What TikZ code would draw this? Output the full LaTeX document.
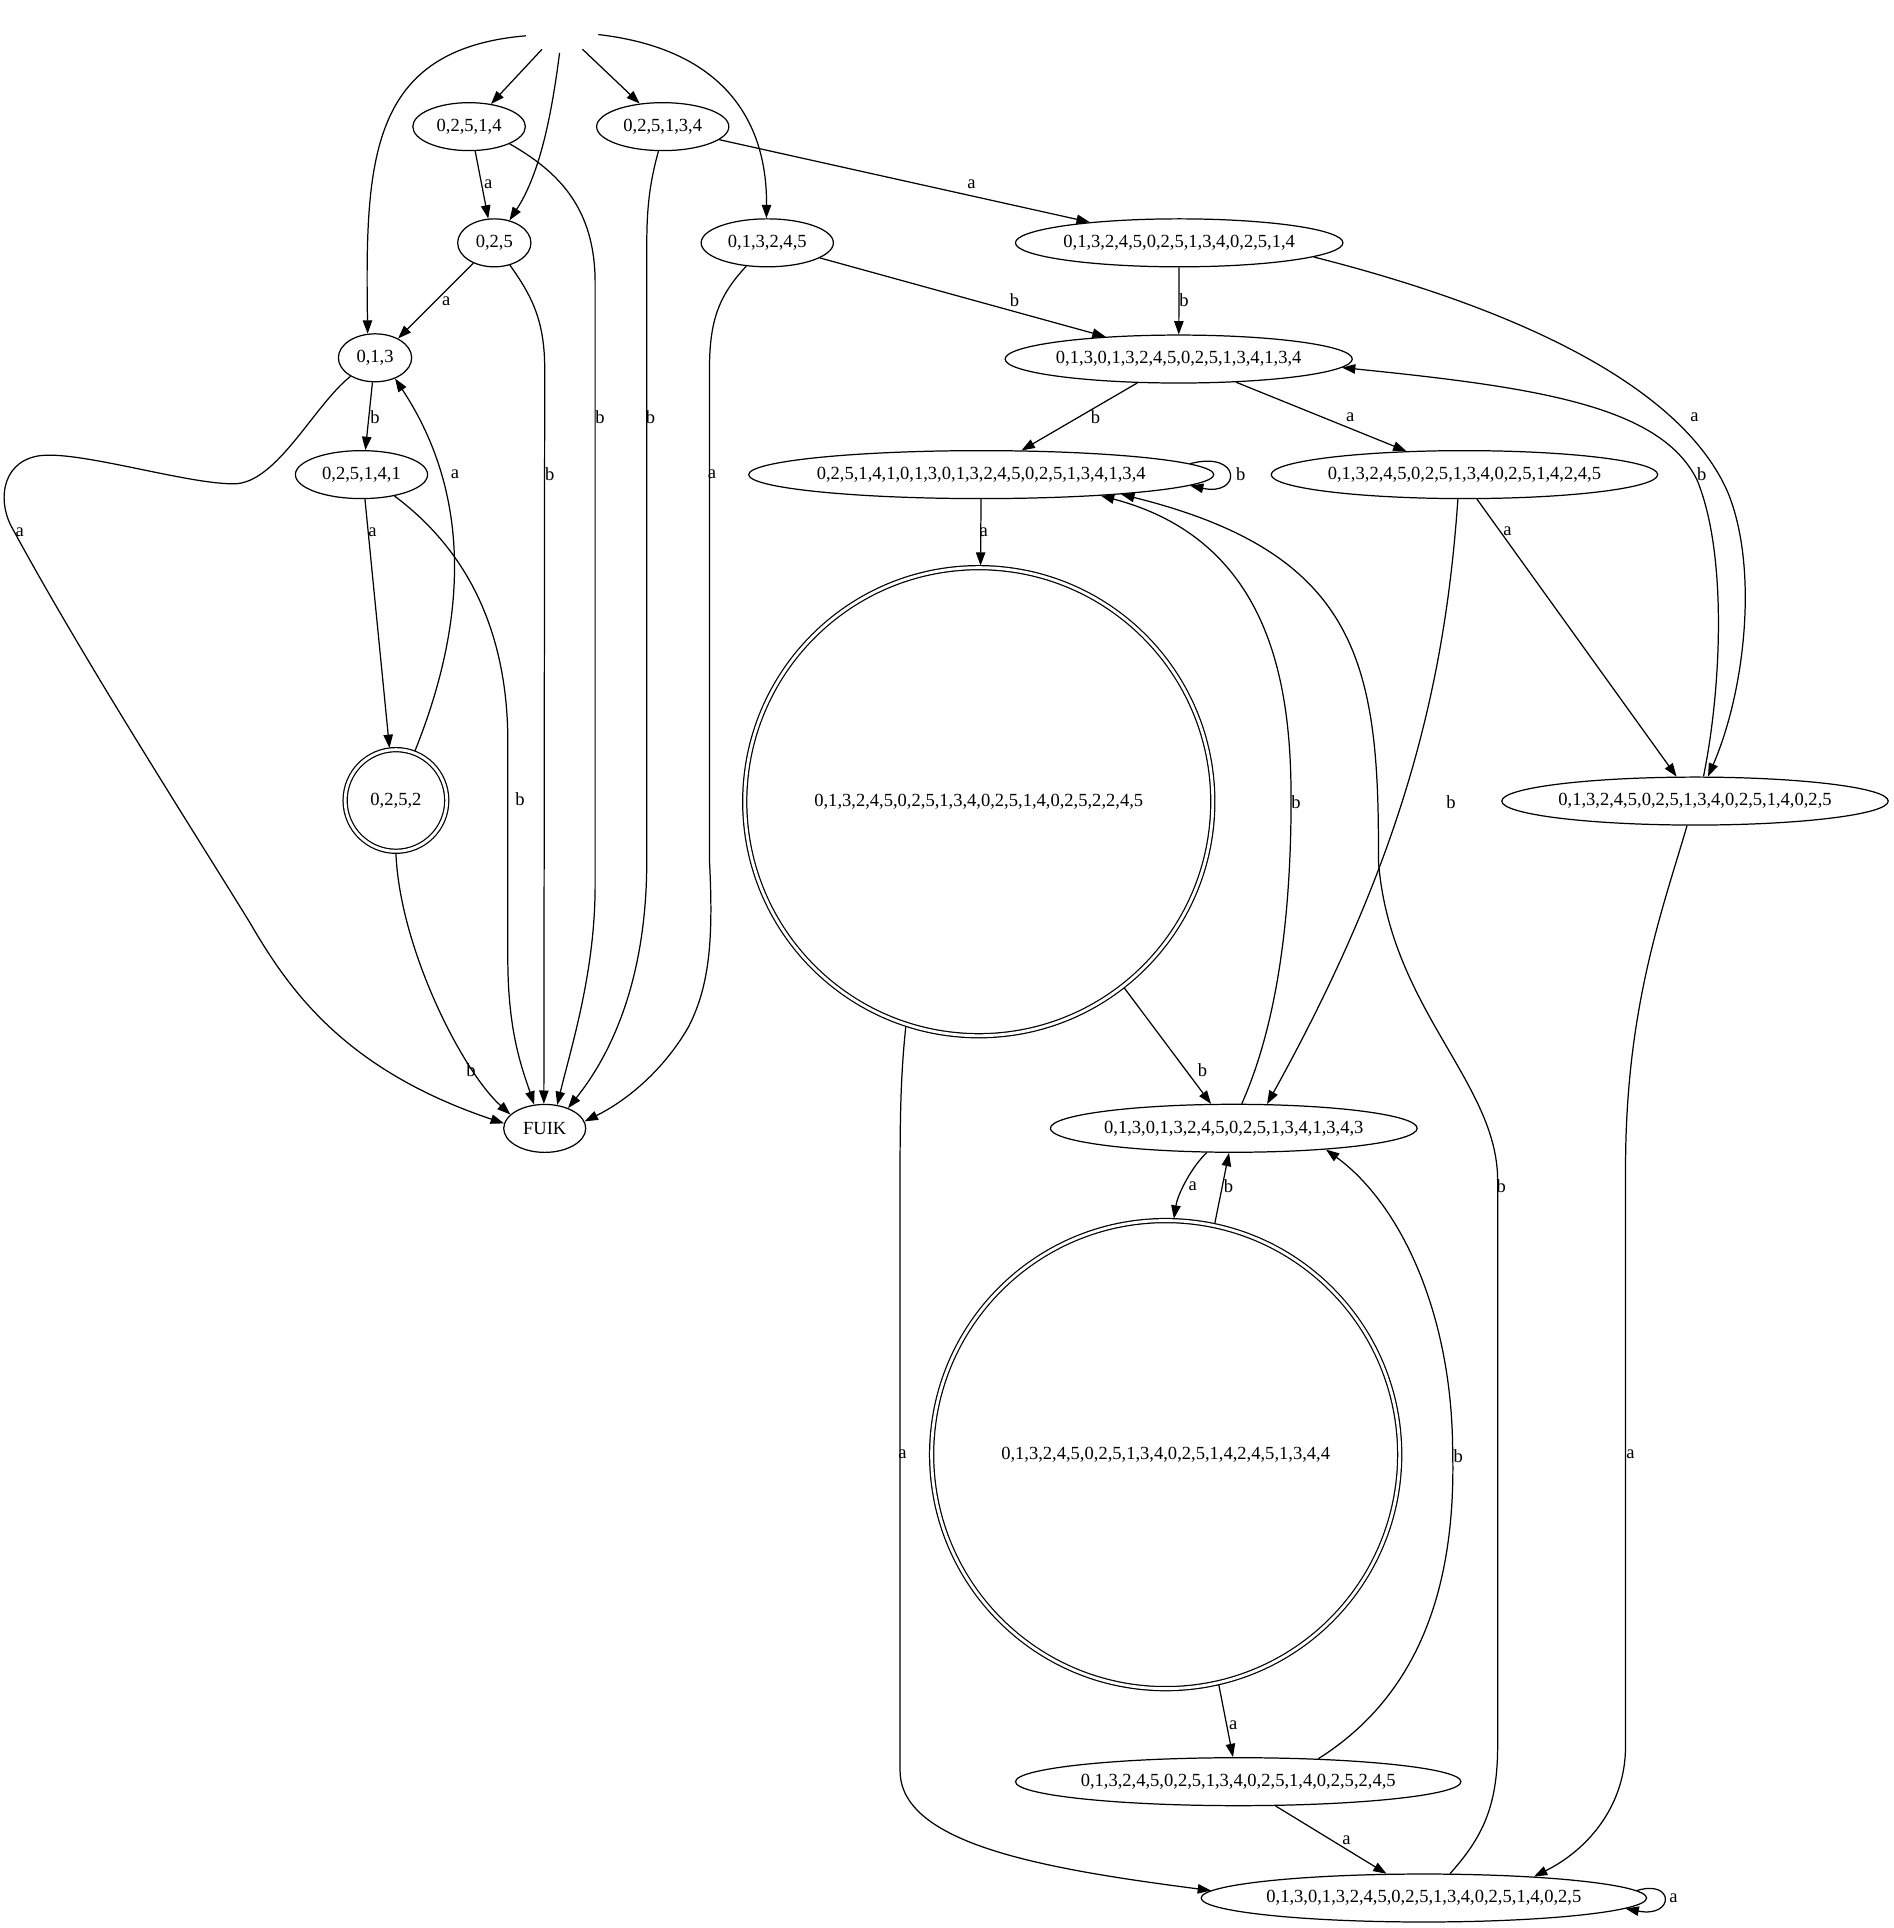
\documentclass[tikz,border=0pt]{standalone}
\usepackage{fontspec}
\setmainfont{Liberation Serif}
\usetikzlibrary{shapes,arrows.meta}
\begin{document}
\begin{tikzpicture}[x=0.6pt, y=-0.6pt, font=\fontsize{9.04pt}{11pt}\selectfont,
  state/.style={ellipse, draw, line width=0.6pt, inner xsep=3.6pt, inner ysep=0pt, minimum height=23.4pt},
  longstate/.style={state, inner xsep=0pt},
  accept/.style={circle, draw, double, double distance=1.4pt, line width=0.6pt, inner sep=0pt, outer sep=1pt, minimum size=#1},
  startpt/.style={ellipse, inner sep=0pt, outer sep=0pt, minimum width=36pt, minimum height=21.6pt},
  tr/.style={-{Triangle[length=6.5pt, width=4.6pt]}, line width=0.6pt},
  lbl/.style={inner sep=0pt}]
  \useasboundingbox (0,0) rectangle (1540,1568);
  \node[startpt] (init) at (457,25) {};
  \node[state] (s02514) at (381.5,103) {0,2,5,1,4};
  \node[state] (s025134) at (539,103) {0,2,5,1,3,4};
  \node[state] (s025) at (402,197.5) {0,2,5};
  \node[state] (s013245) at (624,197.5) {0,1,3,2,4,5};
  \node[state] (s013) at (305,291) {0,1,3};
  \node[state] (s025141) at (294,386) {0,2,5,1,4,1};
  \node[accept=49.6pt] (s0252) at (322,651) {0,2,5,2};
  \node[state] (fuik) at (443,917.7) {FUIK};
  \node[longstate] (r1) at (959,197.5) {0,1,3,2,4,5,0,2,5,1,3,4,0,2,5,1,4};
  \node[longstate] (r2) at (958.6,292) {0,1,3,0,1,3,2,4,5,0,2,5,1,3,4,1,3,4};
  \node[longstate] (r3) at (798,386) {0,2,5,1,4,1,0,1,3,0,1,3,2,4,5,0,2,5,1,3,4,1,3,4};
  \node[longstate] (r4) at (1191,386) {0,1,3,2,4,5,0,2,5,1,3,4,0,2,5,1,4,2,4,5};
  \node[accept=228.4pt] (r5) at (796,652) {0,1,3,2,4,5,0,2,5,1,3,4,0,2,5,1,4,0,2,5,2,2,4,5};
  \node[longstate] (r6) at (1378.5,651.5) {0,1,3,2,4,5,0,2,5,1,3,4,0,2,5,1,4,0,2,5};
  \node[longstate] (r7) at (1003.4,917.6) {0,1,3,0,1,3,2,4,5,0,2,5,1,3,4,1,3,4,3};
  \node[accept=228.4pt] (r8) at (948,1183) {0,1,3,2,4,5,0,2,5,1,3,4,0,2,5,1,4,2,4,5,1,3,4,4};
  \node[longstate] (r9) at (1007,1449) {0,1,3,2,4,5,0,2,5,1,3,4,0,2,5,1,4,0,2,5,2,4,5};
  \node[longstate] (r10) at (1158,1543.6) {0,1,3,0,1,3,2,4,5,0,2,5,1,3,4,0,2,5,1,4,0,2,5};
  \foreach \px/\py/\t [count=\i] in {397/150/a, 363/245/a, 305/339/b, 303/433/a, 370/386/a, 423/650/b, 383/870/b, 447/386/b, 488/339/b, 529/339/b, 579/386/a, 16/433/a, 825/244/b, 790/150/a, 963/244/b, 1378/339/a, 891/339/b, 1098/339/a, 1009/386/b, 800/433/a, 1180/652/b, 1226/432/a, 1384/386/b, 1326/1183/a, 978/870/b, 734/1183/a, 1054/652/b, 1221/965/b, 970/965/a, 999/965/b, 1003/1403/a, 1186/1184/b, 1095/1497/a, 1361/1544/a} {
    \node[lbl] (t\i) at (\px,\py) {\t};
  }
  \draw[tr] (init.188) .. controls (300,40) and (297,130) .. (s013.107);
  \draw[tr] (init.223) -- (s02514.46);
  \draw[tr] (init.264) .. controls (449,90) and (440,140) .. (s025.56);
  \draw[tr] (init.318) -- (s025134.135);
  \draw[tr] (init.354) .. controls (590,40) and (624,100) .. (s013245.92);
  \draw[tr] (s02514.284) -- (s025.104);
  \draw[tr] (s02514.337) .. controls (455,140) and (484,170) .. (484,230) -- (484,720) .. controls (484,790) and (465,850) .. (fuik.62);
  \draw[tr] (s025134.260) .. controls (528,150) and (526,170) .. (526,200) -- (526,700) .. controls (526,800) and (495,860) .. (fuik.41);
  \draw[tr] (s025134.347) -- (r1.167);
  \draw[tr] (s025.224) -- (s013.40);
  \draw[tr] (s025.305) .. controls (432,240) and (443,260) .. (443,300) -- (fuik.92);
  \draw[tr] (s013245.228) .. controls (585,240) and (577,260) .. (577,300) -- (577,700) .. controls (580,760) and (578,800) .. (560,835) .. controls (540,870) and (510,895) .. (fuik.10);
  \draw[tr] (s013245.344) -- (r2.163);
  \draw[tr] (s013.217) .. controls (255,330) and (225,393.5) .. (190,393.5) .. controls (150,393.5) and (60,365) .. (30,371) .. controls (0,377) and (-2,410) .. (10.8,431) .. controls (70,540) and (160,680) .. (203,750) .. controls (235,805) and (280,870) .. (fuik.173);
  \draw[tr] (s013.264) -- (s025141.81);
  \draw[tr] (s025141.278) -- (s0252.97);
  \draw[tr] (s025141.327) .. controls (370,440) and (412,500) .. (413,600) -- (413,780) .. controls (413,840) and (425,870) .. (fuik.114);
  \draw[tr] (s0252.69) .. controls (372,525) and (392,415) .. (s013.314);
  \draw[tr] (s0252.270) .. controls (325,770) and (375,870) .. (fuik.158);
  \draw[tr] (r1) -- (r2);
  \draw[tr] (r1.354) .. controls (1250,255) and (1370,320) .. (1405,400) .. controls (1430,460) and (1420,560) .. (r6.62);
  \draw[tr] (r2.210) -- (r3.31);
  \draw[tr] (r2.338) -- (r4.158);
  \draw[tr] (r3.3) .. controls (1010,366) and (1010,404) .. (r3.357);
  \draw[tr] (r3) -- (r5);
  \draw[tr] (r4.255) .. controls (1175,560) and (1140,700) .. (r7.36);
  \draw[tr] (r4.297) -- (r6.127);
  \draw[tr] (r6.71) .. controls (1400,560) and (1405,450) .. (1380,390) .. controls (1350,330) and (1250,315) .. (r2.357);
  \draw[tr] (r6.252) .. controls (1352,740) and (1322,820) .. (1322,950) -- (1322,1420) .. controls (1322,1470) and (1290,1505) .. (r10.11);
  \draw[tr] (r5.308) -- (r7.133);
  \draw[tr] (r5.252) .. controls (733,870) and (732,900) .. (732,950) -- (732,1440) .. controls (732,1500) and (850,1520) .. (r10.178);
  \draw[tr] (r7.72) .. controls (1040,830) and (1050,740) .. (1050,650) .. controls (1050,560) and (1035,440) .. (r3.350);
  \draw[tr] (r10.43) .. controls (1205,1495) and (1218,1470) .. (1218,1420) -- (1218,960) .. controls (1218,880) and (1130,820) .. (1121,700) .. controls (1122,540) and (1105,450) .. (r3.352);
  \draw[tr] (r7.222) .. controls (970,948) and (958,970) .. (r8.88);
  \draw[tr] (r8.78) -- (r7.259);
  \draw[tr] (r8.283) -- (r9.102);
  \draw[tr] (r9.16) .. controls (1160,1375) and (1184,1280) .. (1181.4,1180) .. controls (1181,1070) and (1140,980) .. (r7.347);
  \draw[tr] (r9.327) -- (r10.147);
  \draw[tr] (r10.2) .. controls (1362,1528) and (1362,1560) .. (r10.357);
\end{tikzpicture}
\end{document}
